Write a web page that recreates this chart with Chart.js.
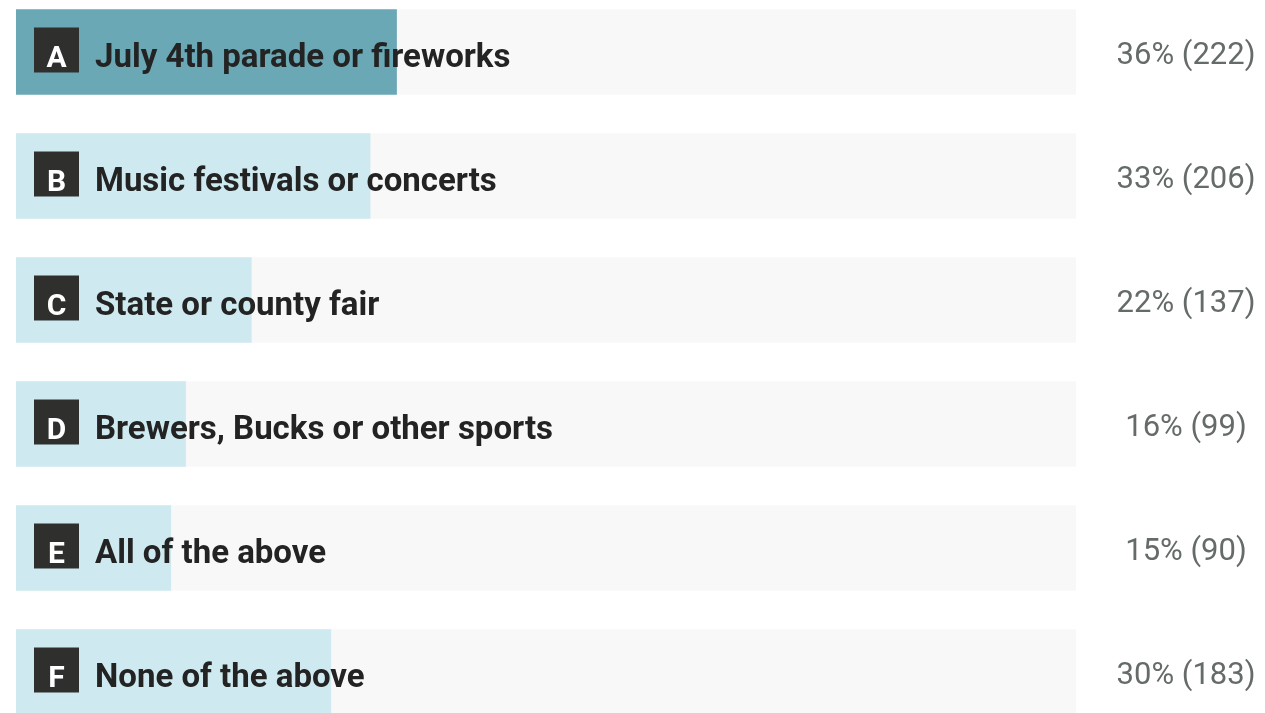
<!DOCTYPE html>
<html lang="en">
<head>
    <meta charset="UTF-8">
    <title>Poll results</title>
    <script src="https://cdn.jsdelivr.net/npm/chart.js"></script>
    <style>
        html, body {
            margin: 0;
            padding: 0;
            background: #fff;
            overflow: hidden;
        }
        .chart-wrap {
            position: relative;
            width: 1265px;
            height: 744px;
            margin-top: -10.5px;
        }
    </style>
</head>
<body>
    <div class="chart-wrap">
        <canvas id="pollChart"></canvas>
    </div>

    <script>
        // poll answers
        const letters = ['A', 'B', 'C', 'D', 'E', 'F'];
        const answers = [
            'July 4th parade or fireworks',
            'Music festivals or concerts',
            'State or county fair',
            'Brewers, Bucks or other sports',
            'All of the above',
            'None of the above'
        ];
        const percents = [35.9, 33.4, 22.2, 16.0, 14.6, 29.7];
        const counts = [222, 206, 137, 99, 90, 183];
        const scaleMax = 100;

        const fillColors = percents.map((p, i) => i === 0 ? '#6ba8b5' : '#ceeaf0');

        // draws the letter badge, answer text and the result on the right
        const labelPlugin = {
            id: 'pollLabels',
            afterDatasetsDraw(chart) {
                const ctx = chart.ctx;
                const meta = chart.getDatasetMeta(0);
                const area = chart.chartArea;
                ctx.save();
                ctx.textBaseline = 'alphabetic';
                meta.data.forEach((bar, i) => {
                    const y = bar.y;
                    const left = bar.base;
                    // badge
                    ctx.fillStyle = '#2f302e';
                    ctx.fillRect(left + 18, y - 24.5, 45, 45);
                    ctx.fillStyle = '#fff';
                    ctx.font = 'bold 30px Roboto';
                    ctx.textAlign = 'center';
                    ctx.fillText(letters[i], left + 40.5, y + 14.5);
                    // answer
                    ctx.fillStyle = '#232323';
                    ctx.font = 'bold 33px Roboto';
                    ctx.textAlign = 'left';
                    ctx.fillText(answers[i], left + 79, y + 14.5);
                    // result
                    ctx.fillStyle = '#656b68';
                    ctx.font = '31px Roboto';
                    ctx.textAlign = 'center';
                    ctx.fillText(Math.round(percents[i]) + '% (' + counts[i] + ')', area.right + 110, y + 11.5);
                });
                ctx.restore();
            }
        };

        new Chart(document.getElementById('pollChart'), {
            type: 'bar',
            data: {
                labels: answers,
                datasets: [
                    {
                        data: percents,
                        backgroundColor: fillColors,
                        grouped: false,
                        barThickness: 85
                    },
                    {
                        data: answers.map(() => scaleMax),
                        backgroundColor: '#f8f8f8',
                        grouped: false,
                        barThickness: 85
                    }
                ]
            },
            options: {
                indexAxis: 'y',
                responsive: true,
                maintainAspectRatio: false,
                animation: false,
                layout: { padding: { left: 16, right: 189, top: 0, bottom: 0 } },
                scales: {
                    x: { display: false, min: 0, max: scaleMax },
                    y: { display: false }
                },
                plugins: {
                    legend: { display: false },
                    tooltip: { enabled: false }
                }
            },
            plugins: [labelPlugin]
        });
    </script>
</body>
</html>
